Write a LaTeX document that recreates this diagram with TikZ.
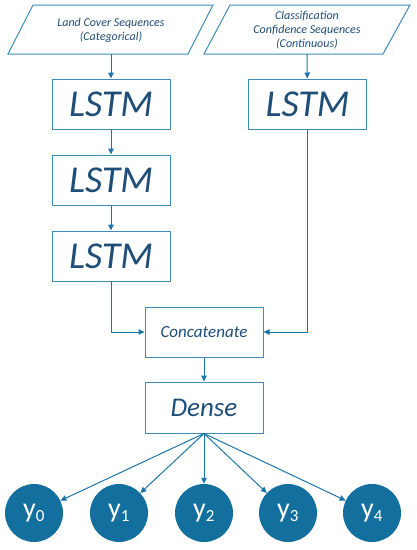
\documentclass[tikz,border=0pt]{standalone}
\usepackage{fontspec}
\setmainfont{Carlito}
\usetikzlibrary{arrows.meta}
\definecolor{bord}{HTML}{3C8DBC}
\definecolor{txt}{HTML}{1F4E79}
\definecolor{arr}{HTML}{1C75A8}
\definecolor{circ}{HTML}{13709E}
\tikzset{
  box/.style={draw=bord, line width=1pt, fill=white, minimum width=118pt, minimum height=50pt, inner sep=0pt, text=txt, font=\fontsize{38}{40}\selectfont\itshape},
  para/.style={draw=bord, line width=1pt, fill=white},
  ptext/.style={text=txt, font=\fontsize{12}{14}\selectfont\itshape, align=center},
  conn/.style={draw=arr, line width=1pt, -{Triangle[length=6pt,width=5.5pt]}},
  outnode/.style={circle, fill=circ, minimum size=58pt, inner sep=0pt, text=white, font=\fontsize{28}{30}\selectfont}
}
\begin{document}
\begin{tikzpicture}[x=1pt,y=-1pt]
\useasboundingbox (0,0) rectangle (417,550);
% input parallelograms
\draw[para] (33,5) -- (213,5) -- (188,54) -- (8,54) -- cycle;
\draw[para] (230,5) -- (410,5) -- (383,54) -- (204,54) -- cycle;
\node[ptext] (in1) at (111,30) {Land Cover Sequences\\(Categorical)};
\node[ptext] (in2) at (307,30) {Classification\\Confidence Sequences\\(Continuous)};
\coordinate (in1b) at (111,54);
\coordinate (in2b) at (307,54);
% LSTMs
\node[box] (l1) at (111,104) {LSTM};
\node[box] (l2) at (111,180) {LSTM};
\node[box] (l3) at (111,256) {LSTM};
\node[box] (r1) at (307.5,104) {LSTM};
% concatenate & dense
\node[box, font=\fontsize{17}{20}\selectfont\itshape] (cat) at (204,332) {Concatenate};
\node[box, minimum height=51pt, font=\fontsize{27}{30}\selectfont\itshape] (dense) at (204,407.5) {Dense};
% outputs
\node[outnode] (y0) at (34,513) {y\textsubscript{\fontsize{17}{18}\selectfont 0}};
\node[outnode] (y1) at (119,513) {y\textsubscript{\fontsize{17}{18}\selectfont 1}};
\node[outnode] (y2) at (204,513) {y\textsubscript{\fontsize{17}{18}\selectfont 2}};
\node[outnode] (y3) at (288,513) {y\textsubscript{\fontsize{17}{18}\selectfont 3}};
\node[outnode] (y4) at (372,513) {y\textsubscript{\fontsize{17}{18}\selectfont 4}};
% connectors
\draw[conn] (in1b) -- (l1);
\draw[conn] (in2b) -- (r1);
\draw[conn] (l1) -- (l2);
\draw[conn] (l2) -- (l3);
\draw[conn] (l3.south) |- (cat.west);
\draw[conn] (r1.south) |- (cat.east);
\draw[conn] (cat) -- (dense);
\foreach \i in {0,...,4} {\draw[conn] (dense.south) -- (y\i);}
\end{tikzpicture}
\end{document}
